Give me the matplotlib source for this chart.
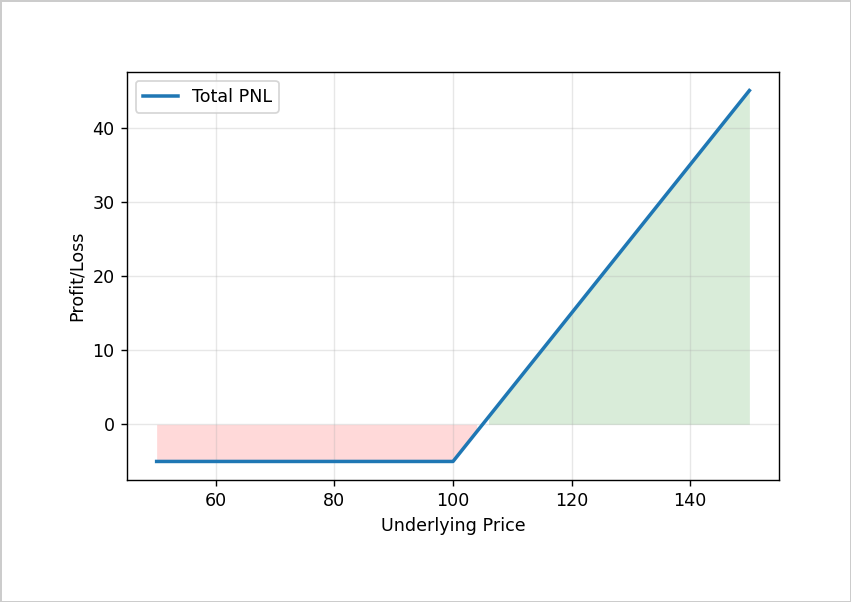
import numpy as np
import matplotlib
matplotlib.use("Agg")
import matplotlib.pyplot as plt

# long call: strike 100, premium 5
strike = 100
premium = 5
prices = np.arange(50, 151, 1)
pnl = np.maximum(prices - strike, 0) - premium

dpi = 126
fig = plt.figure(figsize=(851 / dpi, 602 / dpi), dpi=dpi)
fig.patch.set_edgecolor("#cccccc")
fig.patch.set_linewidth(1.5)
ax = fig.add_axes([127 / 851, 1 - 480 / 602, (779 - 127) / 851, (480 - 72) / 602])

ax.plot(prices, pnl, color="tab:blue", linewidth=2, label="Total PNL")
ax.fill_between(prices, pnl, 0, where=pnl > 0, color="green", alpha=0.15, linewidth=0)
ax.fill_between(prices, pnl, 0, where=pnl < 0, color="red", alpha=0.15, linewidth=0)
ax.set_xlabel("Underlying Price")
ax.set_ylabel("Profit/Loss")
ax.grid(True, alpha=0.3)
ax.legend(loc="upper left")

fig.savefig("out.png", dpi=dpi)
